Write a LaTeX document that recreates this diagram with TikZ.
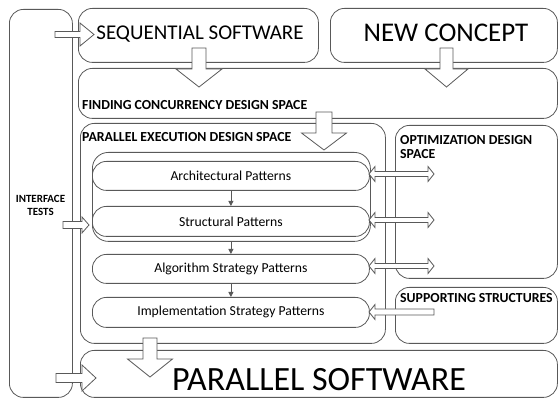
\documentclass[tikz,border=0pt]{standalone}
\usepackage{fontspec}
\setmainfont{Carlito}
\usetikzlibrary{arrows.meta}
\definecolor{linegray}{RGB}{89,89,89}

\tikzset{
  box/.style={draw=linegray, line width=0.8pt, rounded corners=14pt, anchor=north west, inner sep=0pt},
  patbox/.style={box, minimum width=277, font=\fontsize{13.7}{16}\selectfont},
  headtxt/.style={anchor=base west, inner sep=0pt, font=\fontsize{13.8}{14}\selectfont\bfseries},
  blockarrow/.style={draw=linegray, line width=0.8pt, fill=white, line join=miter},
  patarrow/.style={draw=linegray, line width=0.8pt, -{Triangle[length=5pt,width=5pt]}},
  % hollow block arrows: half shaft / half head / length / head length
  pics/downblock/.style n args={4}{code={
    \draw[blockarrow] (-#1,0) -- (#1,0) -- (#1,#3-#4) -- (#2,#3-#4) -- (0,#3)
      -- (-#2,#3-#4) -- (-#1,#3-#4) -- cycle;}},
  pics/rightblock/.style n args={4}{code={
    \draw[blockarrow] (0,-#1) -- (#3-#4,-#1) -- (#3-#4,-#2) -- (#3,0)
      -- (#3-#4,#2) -- (#3-#4,#1) -- (0,#1) -- cycle;}},
  pics/leftblock/.style n args={4}{code={
    \draw[blockarrow] (0,0) -- (#4,-#2) -- (#4,-#1) -- (#3,-#1) -- (#3,#1)
      -- (#4,#1) -- (#4,#2) -- cycle;}},
  pics/dblblock/.style n args={4}{code={
    \draw[blockarrow] (0,0) -- (#4,-#2) -- (#4,-#1) -- (#3-#4,-#1) -- (#3-#4,-#2)
      -- (#3,0) -- (#3-#4,#2) -- (#3-#4,#1) -- (#4,#1) -- (#4,#2) -- cycle;}},
}

\begin{document}
\begin{tikzpicture}[x=1pt, y=-1pt]
  \useasboundingbox (0,0) rectangle (558,398);
  \clip (0,0) rectangle (558,398);

  % Outer spaces
  \node[box, minimum width=63, minimum height=388] (iface) at (9,9) {};
  \node[box, minimum width=240, minimum height=54] (seq) at (78,8) {};
  \node[box, minimum width=227, minimum height=54] (concept) at (330,8) {};
  \node[box, minimum width=479, minimum height=50] (finding) at (78,68) {};
  \node[box, minimum width=305, minimum height=220] (parexec) at (80,123) {};
  \node[box, minimum width=162, minimum height=153] (optim) at (395,125) {};
  \node[box, minimum width=162, minimum height=56] (support) at (395,287) {};
  \node[box, minimum width=477, minimum height=47] (parsoft) at (80,350) {};

  % Titles
  \node[font=\fontsize{21}{24}\selectfont, anchor=base, inner sep=0pt] (seqtxt) at (200,40) {SEQUENTIAL SOFTWARE};
  \node[font=\fontsize{27}{30}\selectfont, anchor=base, inner sep=0pt] (concepttxt) at (446,42) {NEW CONCEPT};
  \node[font=\fontsize{34}{40}\selectfont, anchor=base, inner sep=0pt] (parsofttxt) at (319,391) {PARALLEL SOFTWARE};
  \node[headtxt] (findingtxt) at (82,110) {FINDING CONCURRENCY DESIGN SPACE};
  \node[headtxt] (parexectxt) at (82,142) {PARALLEL EXECUTION DESIGN SPACE};
  \node[headtxt, anchor=north west, align=left] (optimtxt) at (400,135) {OPTIMIZATION DESIGN\\SPACE};
  \node[headtxt] (supporttxt) at (400,303) {SUPPORTING STRUCTURES};
  \node[font=\fontsize{11}{13}\selectfont\bfseries, align=center, inner sep=0pt] (ifacetxt) at (40.5,205) {INTERFACE\\TESTS};

  % Pattern layers
  \node[box, minimum width=278, minimum height=89, rounded corners=16pt] (grp) at (92,152) {};
  \node[patbox, minimum height=29] (arch) at (92,161) {Architectural Patterns};
  \node[patbox, minimum height=30] (struct) at (92,206) {Structural Patterns};
  \node[patbox, minimum height=29] (algo) at (92,254) {Algorithm Strategy Patterns};
  \node[patbox, minimum height=30] (impl) at (92,297) {Implementation Strategy Patterns};

  \draw[patarrow] (arch.south) -- (struct.north);
  \draw[patarrow] (algo.north |- grp.south) -- (algo.north);
  \draw[patarrow] (algo.south) -- (impl.north);

  % Block arrows
  \pic at (55,34.5) {rightblock={3}{11.5}{39}{14}};
  \pic at (199,48) {downblock={7}{23}{39}{18}};
  \pic at (446.5,48) {downblock={6.5}{21.5}{39}{18}};
  \pic at (324,112) {downblock={8}{22.5}{38}{17}};
  \pic at (150,338) {downblock={7}{22.5}{39}{18}};
  \pic at (63,225) {rightblock={3.5}{8}{26}{7}};
  \pic at (56,378) {rightblock={4.5}{13}{40}{14}};

  \pic at (369,174) {dblblock={2.5}{7.5}{65}{6}};
  \pic at (369,220) {dblblock={2.5}{7.5}{65}{6}};
  \pic at (369,266) {dblblock={2.5}{7.5}{65}{6}};
  \pic at (369,312) {leftblock={3}{7.5}{65}{6}};
\end{tikzpicture}
\end{document}
